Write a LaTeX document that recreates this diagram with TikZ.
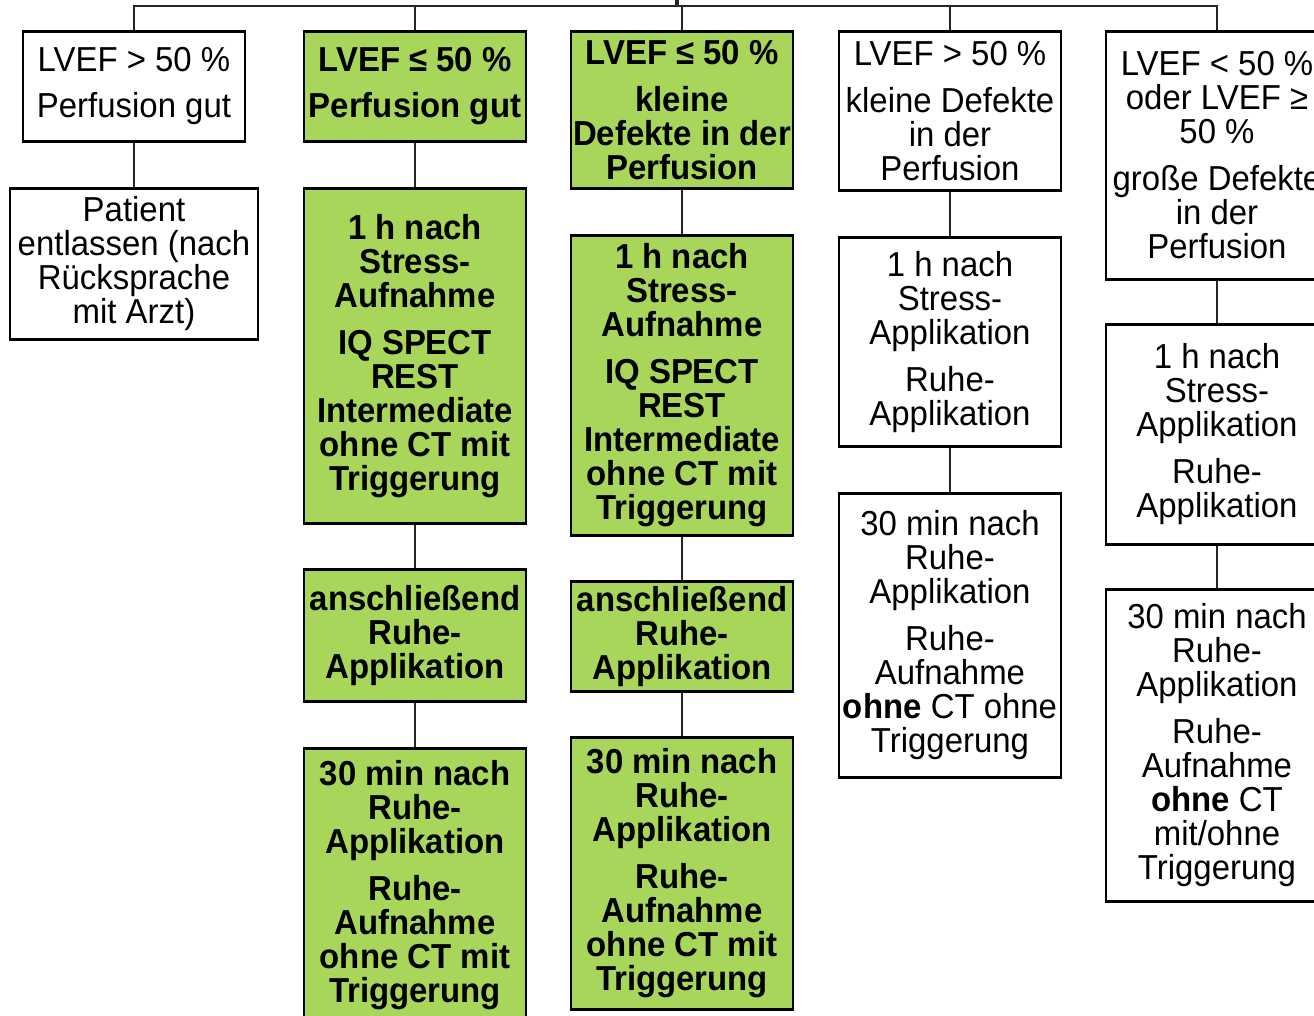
\documentclass[tikz,border=0pt]{standalone}
\usepackage{fontspec}
\setmainfont{Liberation Sans}[FakeStretch=0.95]
\definecolor{lgreen}{RGB}{168,214,90}
\tikzset{
  base/.style={draw=black, line width=2.2pt, inner sep=0pt, align=center,
    minimum width=166.5pt, font=\fontsize{26}{25.5}\selectfont},
  wbox/.style={base, fill=white},
  gbox/.style={base, fill=lgreen, font=\fontsize{26}{25.5}\selectfont\bfseries},
  conn/.style={draw=black!85, line width=1.8pt}
}
\begin{document}
\begin{tikzpicture}[x=0.75pt,y=-0.75pt]
\useasboundingbox (0,0) rectangle (1314,1016);
\clip (0,0) rectangle (1314,1016);
\fill[white] (0,0) rectangle (1314,1016);
\coordinate (root) at (677,-6);
\coordinate (bus) at (677,6);
% column 1
\node[wbox, minimum height=82.5pt, anchor=north] (c1a) at (134,30) {LVEF > 50 \%\\[9pt]Perfusion gut};
\node[wbox, minimum width=186pt, minimum height=113.25pt, anchor=north] (c1b) at (134,187) {Patient\\entlassen (nach\\Rücksprache\\mit Arzt)};
% column 2
\node[gbox, minimum height=82.5pt, anchor=north] (c2a) at (415,30) {LVEF ≤ 50 \%\\[9pt]Perfusion gut};
\node[gbox, minimum height=251.25pt, anchor=north] (c2b) at (415,187) {1 h nach\\Stress-\\Aufnahme\\[9.75pt]IQ SPECT\\REST\\Intermediate\\ohne CT mit\\Triggerung};
\node[gbox, minimum height=99pt, anchor=north] (c2c) at (415,568) {anschließend\\Ruhe-\\Applikation};
\node[gbox, minimum height=204.75pt, anchor=north] (c2d) at (415,747) {30 min nach\\Ruhe-\\Applikation\\[9.75pt]Ruhe-\\Aufnahme\\ohne CT mit\\Triggerung};
% column 3
\node[gbox, minimum height=117.75pt, anchor=north] (c3a) at (682,30) {LVEF ≤ 50 \%\\[10pt]kleine\\Defekte in der\\Perfusion};
\node[gbox, minimum height=225pt, anchor=north] (c3b) at (682,234) {1 h nach\\Stress-\\Aufnahme\\[9.75pt]IQ SPECT\\REST\\Intermediate\\ohne CT mit\\Triggerung};
\node[gbox, minimum height=82.5pt, anchor=north] (c3c) at (682,580) {anschließend\\Ruhe-\\Applikation};
\node[gbox, minimum height=204pt, anchor=north] (c3d) at (682,736) {30 min nach\\Ruhe-\\Applikation\\[9.75pt]Ruhe-\\Aufnahme\\ohne CT mit\\Triggerung};
% column 4
\node[wbox, minimum height=119.25pt, anchor=north] (c4a) at (950,30) {LVEF > 50 \%\\[9.5pt]kleine Defekte\\in der\\Perfusion};
\node[wbox, minimum height=156.75pt, anchor=north] (c4b) at (950,236) {1 h nach\\Stress-\\Applikation\\[9.75pt]Ruhe-\\Applikation};
\node[wbox, minimum height=213pt, anchor=north] (c4c) at (950,492) {30 min nach\\Ruhe-\\Applikation\\[9.75pt]Ruhe-\\Aufnahme\\\textbf{ohne} CT ohne\\Triggerung};
% column 5
\node[wbox, minimum height=186pt, anchor=north] (c5a) at (1217,30) {LVEF < 50 \%\\oder LVEF ≥\\50 \%\\[9.75pt]große Defekte\\in der\\Perfusion};
\node[wbox, minimum height=165pt, anchor=north] (c5b) at (1217,323) {1 h nach\\Stress-\\Applikation\\[9.75pt]Ruhe-\\Applikation};
\node[wbox, minimum height=234pt, anchor=north] (c5c) at (1217,588) {30 min nach\\Ruhe-\\Applikation\\[9.75pt]Ruhe-\\Aufnahme\\\textbf{ohne} CT\\mit/ohne\\Triggerung};
% connectors
\draw[conn, line width=2.6pt] (root) -- (bus);
\foreach \n in {c1a,c2a,c3a,c4a,c5a} {\draw[conn] (bus) -| (\n.north);}
\draw[conn] (c1a.south) -- (c1b.north);
\draw[conn] (c2a.south) -- (c2b.north);
\draw[conn] (c2b.south) -- (c2c.north);
\draw[conn] (c2c.south) -- (c2d.north);
\draw[conn] (c3a.south) -- (c3b.north);
\draw[conn] (c3b.south) -- (c3c.north);
\draw[conn] (c3c.south) -- (c3d.north);
\draw[conn] (c4a.south) -- (c4b.north);
\draw[conn] (c4b.south) -- (c4c.north);
\draw[conn] (c5a.south) -- (c5b.north);
\draw[conn] (c5b.south) -- (c5c.north);
\end{tikzpicture}
\end{document}
